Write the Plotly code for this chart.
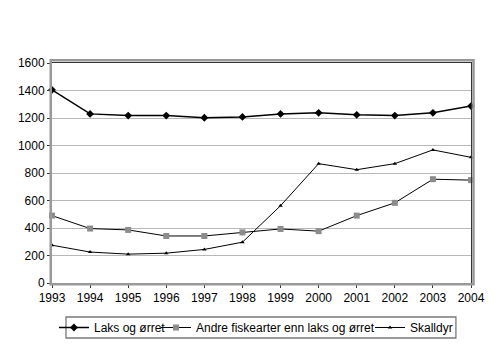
import plotly.graph_objects as go

years = list(range(1993, 2005))
laks = [1405, 1230, 1218, 1218, 1202, 1208, 1230, 1238, 1223, 1218, 1238, 1287]
andre = [490, 396, 386, 342, 342, 368, 393, 377, 490, 583, 755, 748]
skalldyr = [275, 225, 210, 217, 244, 297, 562, 868, 824, 868, 968, 914]
y_ticks = [0, 200, 400, 600, 800, 1000, 1200, 1400, 1600]

font = dict(family="Liberation Sans, Arial, sans-serif", size=12, color="black")

fig = go.Figure()
fig.add_trace(go.Scatter(
    x=years, y=laks, name="Laks og ørret", mode="lines+markers",
    line=dict(color="black", width=1.5),
    marker=dict(symbol="diamond", size=6, color="black"),
    cliponaxis=False, legend="legend",
))
fig.add_trace(go.Scatter(
    x=years, y=andre, name="Andre fiskearter enn laks og ørret", mode="lines+markers",
    line=dict(color="black", width=1),
    marker=dict(symbol="square", size=6, color="#8c8c8c"),
    cliponaxis=False, legend="legend2",
))
fig.add_trace(go.Scatter(
    x=years, y=skalldyr, name="Skalldyr", mode="lines+markers",
    line=dict(color="black", width=1),
    marker=dict(symbol="triangle-up", size=4, color="black"),
    cliponaxis=False, legend="legend3",
))

frame_shapes = [
    # outer grey frame around the plotting area
    dict(type="rect", xref="paper", yref="paper",
         x0=-0.003, x1=1.006, y0=-0.006, y1=1.012,
         line=dict(color="#999999", width=2.5), layer="above"),
    # box enclosing the legend row
    dict(type="rect", xref="paper", yref="paper",
         x0=0.0334, x1=0.964, y0=-0.25, y1=-0.1545,
         line=dict(color="#7a7a7a", width=1.3), layer="above"),
]


def legend_at(x):
    return dict(orientation="h", xref="container", yref="container",
                x=x, xanchor="left", y=0.098, yanchor="top",
                bgcolor="rgba(0,0,0,0)", borderwidth=0, font=font, itemwidth=30)


fig.update_layout(
    width=500, height=347,
    margin=dict(l=52, r=29, t=63, b=64, autoexpand=False),
    paper_bgcolor="white", plot_bgcolor="white",
    font=font,
    shapes=frame_shapes,
    showlegend=True,
    legend=legend_at(0.108),
    legend2=legend_at(0.312),
    legend3=legend_at(0.74),
    xaxis=dict(range=[1993, 2004], tickvals=years, ticktext=[str(y) for y in years],
               showgrid=False, zeroline=False, showline=True, linecolor="#333333",
               linewidth=1, mirror=True, ticks="outside", ticklen=4, tickcolor="#333333",
               tickfont=font, fixedrange=True, automargin=False),
    yaxis=dict(range=[0, 1600], tickvals=y_ticks, showgrid=True, gridcolor="#b8b8b8",
               gridwidth=1, zeroline=False, showline=True, linecolor="#333333",
               linewidth=1, mirror=True, ticks="outside", ticklen=4, tickcolor="#333333",
               tickfont=font, fixedrange=True, automargin=False),
)

fig.write_html("out.html")
